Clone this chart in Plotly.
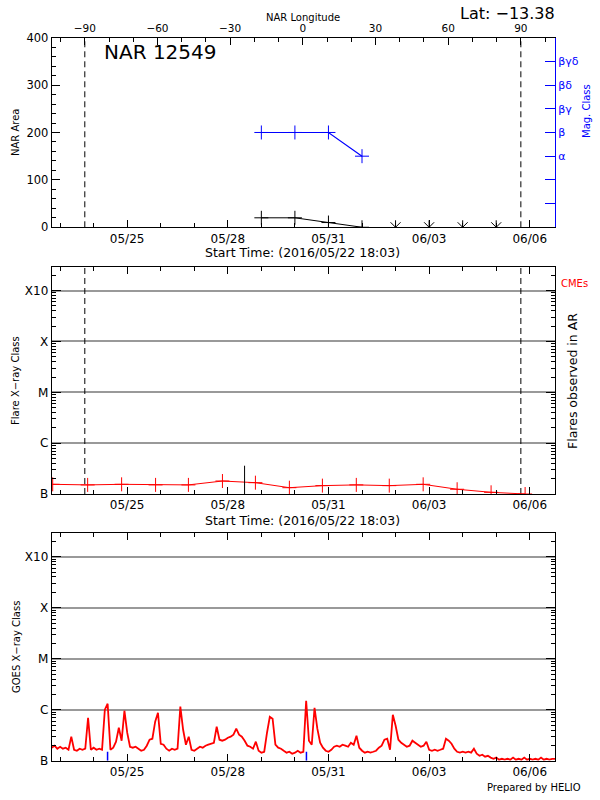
import plotly.graph_objects as go
import pandas as pd

FONT = "DejaVu Sans"

# ---------------- data ----------------
start_time = pd.Timestamp("2016-05-22 18:03")
end_time = pd.Timestamp("2016-06-06 18:03")

region_name = "NAR 12549"
region_lat = -13.38

# NOAA active region area and magnetic class
nar_times = ["2016-05-29 00:00", "2016-05-30 00:00", "2016-05-31 00:00", "2016-06-01 00:00"]
nar_area = [20, 20, 10, 0]
mag_class = ["β", "β", "β", "α"]
mag_class_levels = ["", "", "α", "β", "βγ", "βδ", "βγδ"]   # class index 1..7
nospot_times = ["2016-06-02 00:00", "2016-06-03 00:00", "2016-06-04 00:00", "2016-06-05 00:00"]
nospot_area = [0, 0, 0, 0]

# rotation (longitude axis)
cm_passage = pd.Timestamp("2016-05-30 05:40")
rotation_deg_per_day = 13.85
limb_longitudes = [-90, 90]

# flares observed in AR (W/m^2)
flare_times = ["2016-05-22 18:45", "2016-05-23 19:45", "2016-05-24 20:03", "2016-05-25 20:20",
               "2016-05-26 19:50", "2016-05-27 20:10", "2016-05-28 19:45", "2016-05-29 20:03",
               "2016-05-30 19:40", "2016-05-31 19:55", "2016-06-01 19:30", "2016-06-02 19:45",
               "2016-06-03 20:03", "2016-06-04 20:20", "2016-06-05 20:40"]
flare_flux = [1.55e-7, 1.51e-7, 1.55e-7, 1.51e-7, 1.51e-7, 1.80e-7, 1.67e-7, 1.33e-7,
              1.46e-7, 1.51e-7, 1.46e-7, 1.55e-7, 1.24e-7, 1.08e-7, 1.00e-7]
event_times = ["2016-05-28 12:00"]
event_flux = [3.6e-7]

# GOES X-ray flux, 2-hour samples from start_time, in units of 1e-7 W/m^2
goes_step_hours = 2
goes_b = [1.80, 1.97, 1.72, 1.88, 1.72, 1.80, 1.64, 2.96, 1.64, 1.57,
          1.72, 1.64, 1.72, 6.97, 1.64, 1.80, 1.64, 1.72, 1.64, 10.0,
          13.1, 1.64, 1.80, 2.36, 4.44, 2.47, 9.55, 3.54, 1.88, 1.80,
          1.88, 1.72, 1.57, 1.64, 1.97, 2.58, 2.70, 5.82, 8.73, 2.15,
          2.06, 1.72, 1.57, 1.72, 1.64, 1.72, 11.5, 4.05, 2.06, 2.96,
          1.64, 1.57, 1.72, 1.88, 1.80, 1.97, 2.06, 2.15, 2.25, 4.64,
          2.58, 2.47, 2.58, 2.83, 2.96, 3.24, 4.24, 3.24, 2.96, 2.47,
          1.97, 1.88, 1.72, 2.36, 1.57, 1.44, 1.50, 3.54, 7.29, 6.66,
          2.06, 1.80, 1.72, 1.57, 1.44, 1.50, 1.37, 1.44, 1.57, 1.44,
          1.50, 15.0, 2.47, 2.06, 10.9, 4.24, 2.25, 1.80, 1.57, 1.50,
          1.64, 1.88, 1.97, 1.88, 2.06, 1.97, 1.88, 2.25, 2.06, 3.09,
          1.80, 1.57, 1.44, 1.50, 1.44, 1.50, 1.57, 1.80, 1.97, 2.58,
          2.70, 1.64, 7.98, 4.86, 2.58, 2.25, 2.06, 1.88, 1.97, 2.47,
          2.25, 2.06, 1.88, 1.97, 2.36, 1.64, 1.57, 1.64, 1.57, 1.64,
          1.72, 2.70, 2.47, 2.15, 1.72, 1.50, 1.44, 1.50, 1.44, 1.50,
          1.44, 1.72, 1.37, 1.25, 1.31, 1.20, 1.25, 1.15, 1.09, 1.15,
          1.05, 1.09, 1.05, 1.09, 1.05, 1.15, 1.05, 1.09, 1.05, 1.15,
          1.05, 1.09, 1.05, 1.09, 1.05, 1.15, 1.05, 1.09, 1.05, 1.09, 1.09]
goes_marks = ["2016-05-24 10:00", "2016-05-30 08:15"]
goes_mark_flux = [1.5e-7, 1.5e-7]

class_ticks = [1e-7, 1e-6, 1e-5, 1e-4, 1e-3]
class_labels = ["B", "C", "M", "X", "X10"]

# ---------------- derived ----------------
def lon_of(t):
    return (pd.Timestamp(t) - cm_passage) / pd.Timedelta(days=1) * rotation_deg_per_day

lon_range = [lon_of(start_time), lon_of(end_time)]
limb_times = [cm_passage + pd.Timedelta(days=l / rotation_deg_per_day) for l in limb_longitudes]
mag_idx = [mag_class_levels.index(c) + 1 for c in mag_class]
goes_times = pd.date_range(start_time, periods=len(goes_b), freq=f"{goes_step_hours}h")
goes_flux = [v * 1e-7 for v in goes_b]
LOG_TOP = -2.53
log_minor = [k * 10.0 ** e for e in range(-7, -2) for k in range(2, 10)]

# ---------------- layout geometry ----------------
XD = [0.0862, 0.925]
YD1 = [0.7159, 0.9529]
YD2 = [0.3825, 0.6666]
YD3 = [0.0491, 0.3341]

fig = go.Figure()

cross = dict(symbol="cross-thin-open", size=10, line=dict(width=1))

# top panel: limb lines on longitude axis
lx, ly = [], []
for l in limb_longitudes:
    lx += [l, l, None]
    ly += [0, 400, None]
fig.add_trace(go.Scatter(x=lx, y=ly, xaxis="x2", yaxis="y", mode="lines",
                         line=dict(color="black", width=1, dash="6px,4px"), showlegend=False))
fig.add_trace(go.Scatter(x=nar_times, y=nar_area, xaxis="x", yaxis="y", mode="lines+markers",
                         line=dict(color="black", width=1),
                         marker=dict(cross, color="black", line=dict(width=1, color="black")),
                         showlegend=False))
for sym in ["x-thin-open", "line-ns-open"]:
    fig.add_trace(go.Scatter(x=nospot_times, y=nospot_area, xaxis="x", yaxis="y", mode="markers",
                             marker=dict(symbol=sym, size=10, color="black",
                                         line=dict(width=1, color="black")),
                             cliponaxis=True, showlegend=False))
fig.add_trace(go.Scatter(x=nar_times, y=mag_idx, xaxis="x", yaxis="y2", mode="lines+markers",
                         line=dict(color="blue", width=1.2),
                         marker=dict(cross, color="blue", line=dict(width=1, color="blue")),
                         showlegend=False))

# middle panel
mx, my = [], []
for t in limb_times:
    mx += [t, t, None]
    my += [1e-7, 10 ** LOG_TOP, None]
fig.add_trace(go.Scatter(x=mx, y=my, xaxis="x3", yaxis="y3", mode="lines",
                         line=dict(color="black", width=1, dash="6px,4px"), showlegend=False))
fig.add_trace(go.Scatter(x=flare_times, y=flare_flux, xaxis="x3", yaxis="y3", mode="lines+markers",
                         line=dict(color="red", width=1),
                         marker=dict(cross, color="red", line=dict(width=1, color="red")),
                         showlegend=False))
ex, ey = [], []
for t, f in zip(event_times, event_flux):
    ex += [t, t, None]
    ey += [1e-7, f, None]
fig.add_trace(go.Scatter(x=ex, y=ey, xaxis="x3", yaxis="y3", mode="lines",
                         line=dict(color="black", width=1), showlegend=False))

# bottom panel
fig.add_trace(go.Scatter(x=goes_times, y=goes_flux, xaxis="x4", yaxis="y4", mode="lines",
                         line=dict(color="red", width=1.8), showlegend=False))
bx, by = [], []
for t, f in zip(goes_marks, goes_mark_flux):
    bx += [t, t, None]
    by += [1e-7, f, None]
fig.add_trace(go.Scatter(x=bx, y=by, xaxis="x4", yaxis="y4", mode="lines",
                         line=dict(color="blue", width=1.5), showlegend=False))

tickf = dict(family=FONT, size=12, color="black")
base = dict(showline=True, linecolor="black", linewidth=1, ticks="inside", tickcolor="black",
            showgrid=False, zeroline=False, tickfont=tickf, automargin=False)

def time_axis(domain, anchor, mirror):
    d = dict(base, domain=domain, anchor=anchor, type="date",
             range=[start_time, end_time], tick0="2016-05-25", dtick=3 * 86400000,
             tickformat="%m/%d", ticklen=7,
             minor=dict(dtick=86400000, tick0="2016-05-25", ticklen=4, ticks="inside",
                        tickcolor="black", showgrid=False))
    if mirror:
        d["mirror"] = "ticks"
    return d

def class_axis(domain, anchor):
    return dict(base, domain=domain, anchor=anchor, type="log", range=[-7, LOG_TOP],
                tickmode="array", tickvals=class_ticks, ticktext=class_labels, ticklen=9,
                showgrid=True, gridcolor="#999999", gridwidth=1.5, mirror="ticks",
                minor=dict(tickmode="array", tickvals=log_minor, ticklen=4, ticks="inside",
                           tickcolor="black", showgrid=False))

fig.update_layout(
    template="none",
    width=600, height=800,
    margin=dict(l=0, r=0, t=0, b=0, autoexpand=False),
    paper_bgcolor="white", plot_bgcolor="white",
    font=dict(family=FONT, size=12, color="black"),
    showlegend=False,
    xaxis=time_axis(XD, "y", False),
    xaxis2=dict(base, overlaying="x", side="top", anchor="y", range=lon_range,
                tick0=0, dtick=30, ticklen=7, tickfont=dict(family=FONT, size=10.5, color="black"),
                minor=dict(dtick=10, tick0=0, ticklen=4, ticks="inside", tickcolor="black")),
    yaxis=dict(base, domain=YD1, anchor="x", range=[0, 400], dtick=100, ticklen=8,
               tickfont=dict(family=FONT, size=11.5, color="black"),
               minor=dict(dtick=20, ticklen=4, ticks="inside", tickcolor="black")),
    yaxis2=dict(base, overlaying="y", side="right", anchor="x", range=[0, 8],
                tickmode="array", tickvals=list(range(1, 8)), ticktext=mag_class_levels,
                linecolor="blue", tickcolor="blue", ticklen=10,
                tickfont=dict(family=FONT, size=11, color="blue")),
    xaxis3=time_axis(XD, "y3", True),
    yaxis3=class_axis(YD2, "x3"),
    xaxis4=time_axis(XD, "y4", True),
    yaxis4=class_axis(YD3, "x4"),
)

def px(x, y):
    return x / 600, 1 - y / 800

anns = [
    (region_name, 102, 52, "left", 20, "black", 0),
    (f"Lat: {region_lat:.2f}".replace("-", "\u2212"), 557, 14, "right", 16, "black", 0),
    ("NAR Longitude", 303, 18, "center", 10, "black", 0),
    ("NAR Area", 15, 133, "center", 10, "black", -90),
    ("Mag. Class", 586, 111, "center", 10, "blue", -90),
    ("Start Time: (2016/05/22 18:03)", 302, 253, "center", 12.5, "black", 0),
    ("Flare X\u2212ray Class", 15, 381, "center", 10, "black", -90),
    ("Flares observed in AR", 572, 381, "center", 12.5, "black", -90),
    ("CMEs", 574, 283, "center", 10, "red", 0),
    ("Start Time: (2016/05/22 18:03)", 302, 520, "center", 12.5, "black", 0),
    ("GOES X\u2212ray Class", 16, 647, "center", 10, "black", -90),
    ("Prepared by HELIO", 583, 787, "right", 10, "black", 0),
]
for text, x, y, xa, size, color, ang in anns:
    ax, ay = px(x, y)
    fig.add_annotation(text=text, x=ax, y=ay, xref="paper", yref="paper",
                       xanchor=xa, yanchor="middle", showarrow=False, textangle=ang,
                       font=dict(family=FONT, size=size, color=color))

fig.write_html("out.html", config={"displayModeBar": False},
               post_script="document.body.style.margin='0';")
